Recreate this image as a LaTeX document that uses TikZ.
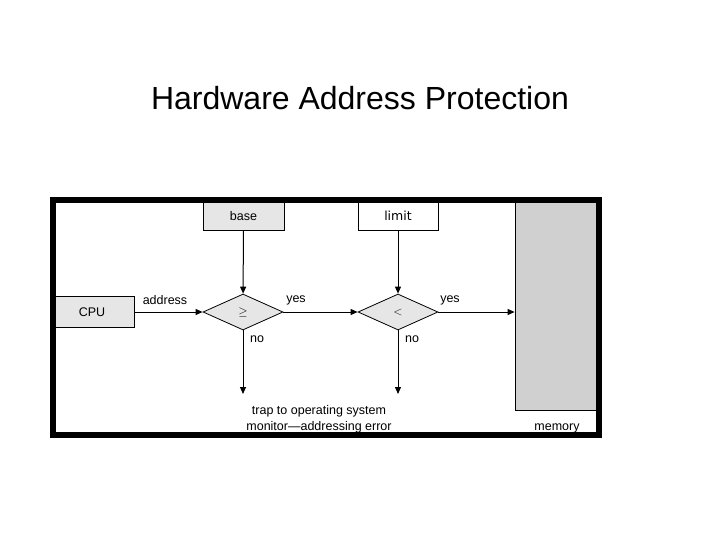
\documentclass[tikz,border=0pt]{standalone}
\usepackage{fontspec}
\setmainfont{Liberation Sans}
\newfontfamily\limitfont{DejaVu Sans}
\usetikzlibrary{shapes.geometric,arrows.meta}
\definecolor{boxgray}{HTML}{E6E6E6}
\definecolor{memgray}{HTML}{D0D0D0}
\tikzset{
  regbox/.style={draw, line width=0.8pt, inner sep=0pt, font=\fontsize{12.5}{15}\selectfont},
  cmpbox/.style={draw, diamond, fill=boxgray, line width=0.8pt, inner sep=0pt, aspect=2.2,
    minimum width=80pt, minimum height=36pt, font=\fontsize{12.5}{15}\selectfont},
  lbl/.style={font=\fontsize{12.5}{15}\selectfont, inner sep=0pt},
  flow/.style={line width=1pt, -{Triangle[length=7pt,width=6pt]}}
}
\begin{document}
\begin{tikzpicture}[x=1pt,y=-1pt]
  \useasboundingbox (0,0) rectangle (720,540);
  % title
  \node[font=\fontsize{32}{38}\selectfont] (title) at (360,98) {Hardware Address Protection};
  % registers and memory
  \node[regbox, fill=boxgray, minimum width=81pt, minimum height=28pt] (base) at (243.5,216) {base};
  \node[regbox, fill=white, minimum width=80pt, minimum height=28pt, font=\limitfont\fontsize{12.5}{15}\selectfont] (limit) at (398,216) {limit};
  \node[regbox, fill=boxgray, minimum width=84pt, minimum height=31pt] (cpu) at (92,312) {CPU};
  \node[regbox, fill=memgray, minimum width=82pt, minimum height=208pt] (memory) at (556,306) {};
  % comparisons
  \node[cmpbox] (ge) at (243,312) {$\geq$};
  \node[cmpbox] (lt) at (398,312) {$<$};
  \coordinate (trapa) at (243,394);
  \coordinate (trapb) at (398,394);
  % arrows
  \draw[flow] (base) -- (ge);
  \draw[flow] (limit) -- (lt);
  \draw[flow] (cpu) -- (ge);
  \draw[flow] (ge) -- (lt);
  \draw[flow] (lt) -- (memory.west |- lt);
  \draw[flow] (ge) -- (trapa);
  \draw[flow] (lt) -- (trapb);
  % labels
  \node[lbl] (addr) at (165,300) {address};
  \node[lbl] (yesa) at (296,300) {yes};
  \node[lbl] (yesb) at (450,300) {yes};
  \node[lbl] (noa) at (257,339) {no};
  \node[lbl] (nob) at (412,339) {no};
  \node[lbl, align=center, font=\fontsize{12.5}{16}\selectfont] (trap) at (319,419) {trap to operating system\\monitor---addressing error};
  \node[lbl] (memlbl) at (557,428) {memory};
  % frame
  \draw[line width=5.5pt] (53,200) rectangle (599,435);
\end{tikzpicture}
\end{document}
